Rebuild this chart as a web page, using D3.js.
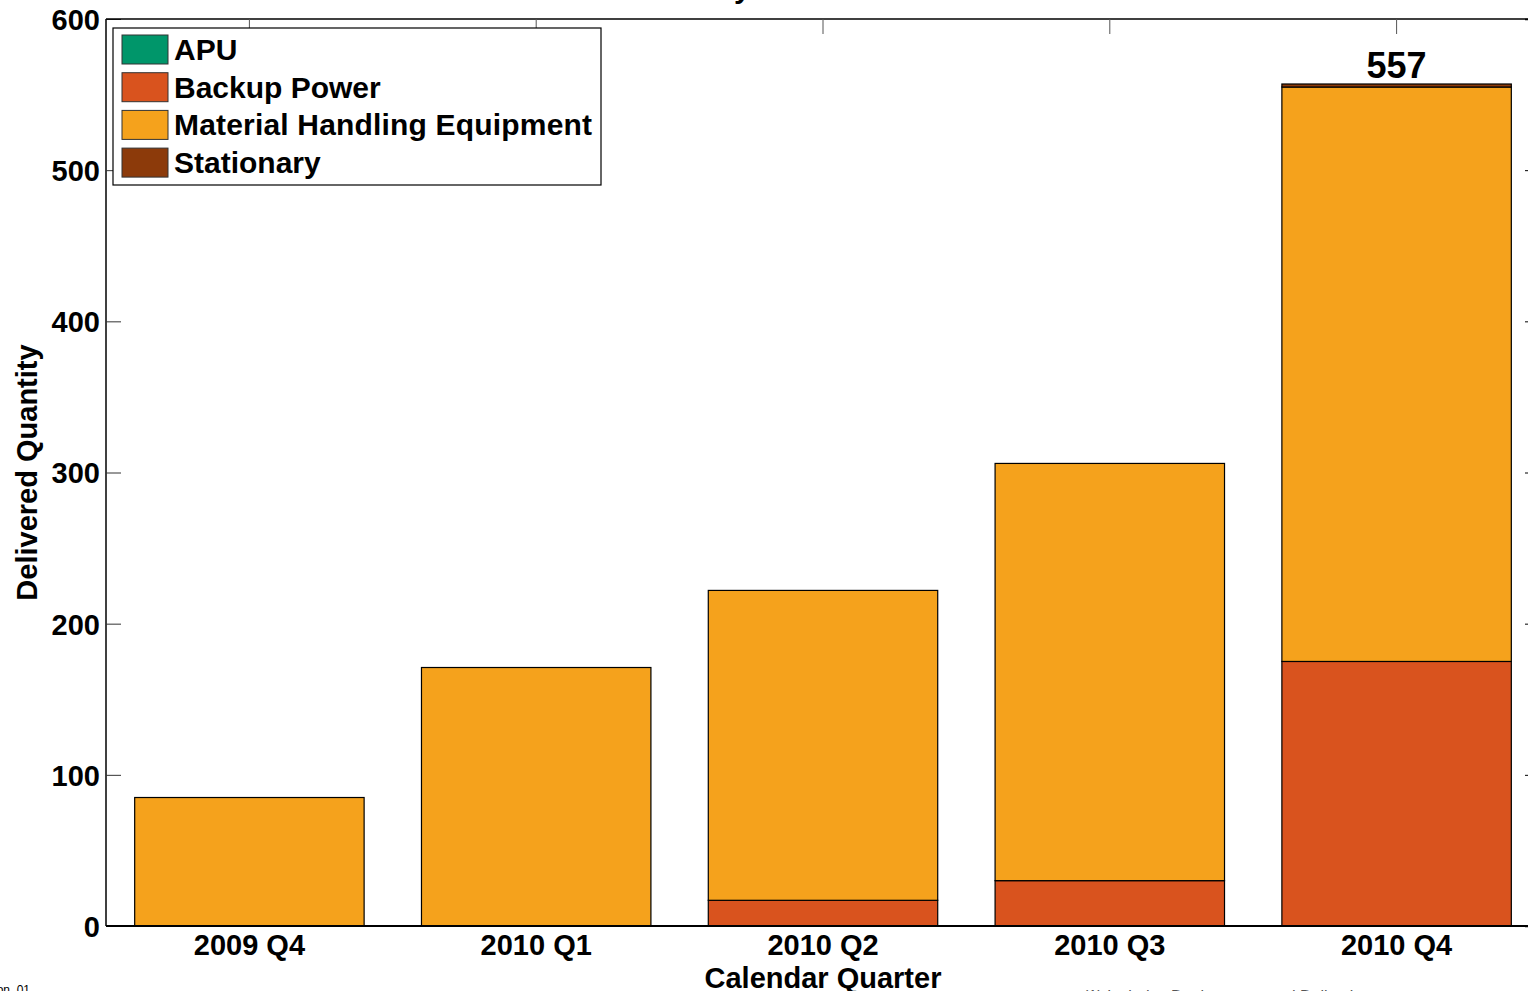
<!DOCTYPE html>
<html>
<head>
<meta charset="utf-8">
<script src="https://cdn.jsdelivr.net/npm/d3@7"></script>
<style>
  html, body { margin: 0; padding: 0; background: #fff; overflow: hidden; }
  svg { display: block; font-family: "Liberation Sans", Arial, sans-serif; font-weight: bold; }
</style>
</head>
<body>
<div class="visHolder"></div>
<script>
// data
const quarters = ["2009 Q4", "2010 Q1", "2010 Q2", "2010 Q3", "2010 Q4"];
const seriesNames = ["APU", "Backup Power", "Material Handling Equipment", "Stationary"];
const apu = [0, 0, 0, 0, 0];
const backupPower = [0, 0, 17, 30, 175];
const materialHandling = [85, 171, 205, 276, 380];
const stationary = [0, 0, 0, 0, 2];
const yTicks = [0, 100, 200, 300, 400, 500, 600];
const colors = ["#00966A", "#D9531E", "#F5A21C", "#8C3A0A"];

const w = 1528;
const h = 991;
const plotLeft = 106, plotRight = 1540, plotTop = 19, plotBottom = 926;

const svg = d3.select(".visHolder")
  .append("svg")
  .attr("width", w)
  .attr("height", h);

const xScale = d3.scaleBand()
  .domain(quarters)
  .range([plotLeft, plotRight])
  .paddingInner(0.2)
  .paddingOuter(0.1);

const yScale = d3.scaleLinear()
  .domain([0, 600])
  .range([plotBottom, plotTop]);

// stack the series
const rows = quarters.map((q, i) => ({
  quarter: q,
  "APU": apu[i],
  "Backup Power": backupPower[i],
  "Material Handling Equipment": materialHandling[i],
  "Stationary": stationary[i]
}));
const stack = d3.stack().keys(seriesNames)(rows);

// title (mostly above the visible area)
svg.append("text")
  .attr("x", (plotLeft + plotRight) / 2)
  .attr("y", -2)
  .attr("text-anchor", "middle")
  .attr("font-size", 30)
  .text("Delivery Trends Over Time");

// bars
stack.forEach((s, k) => {
  svg.append("g")
    .selectAll("rect")
    .data(s.filter(d => d[1] - d[0] > 0))
    .enter()
    .append("rect")
    .attr("x", d => xScale(d.data.quarter))
    .attr("y", d => yScale(d[1]))
    .attr("width", xScale.bandwidth())
    .attr("height", d => yScale(d[0]) - yScale(d[1]))
    .attr("fill", colors[k])
    .attr("stroke", "#000")
    .attr("stroke-width", 1.2);
});

// axes box
const yLeft = d3.axisLeft(yScale).tickValues(yTicks).tickSize(-15).tickPadding(20).tickFormat(d3.format("d"));
const gy = svg.append("g")
  .attr("transform", "translate(" + plotLeft + ",0)")
  .call(yLeft);
gy.select(".domain").attr("stroke-width", 1.5).attr("d", "M0," + plotTop + "V" + plotBottom);
gy.selectAll(".tick line").attr("stroke", "#333");
gy.selectAll("text").attr("font-size", 29).attr("font-family", "Liberation Sans, Arial").attr("font-weight", "bold").attr("fill", "#000").attr("dy", "0.36em").attr("x", -6);

const yRight = d3.axisRight(yScale).tickValues(yTicks).tickSize(-15).tickFormat("");
svg.append("g")
  .attr("transform", "translate(" + plotRight + ",0)")
  .call(yRight)
  .call(g => g.select(".domain").attr("stroke-width", 1.5));

const xBottom = d3.axisBottom(xScale).tickSize(0).tickPadding(10);
const gx = svg.append("g")
  .attr("transform", "translate(0," + plotBottom + ")")
  .call(xBottom);
gx.select(".domain").attr("stroke-width", 1.8).attr("d", "M" + plotLeft + ",0H" + plotRight);
gx.selectAll("text").attr("font-size", 29).attr("font-family", "Liberation Sans, Arial").attr("font-weight", "bold").attr("fill", "#000").attr("dy", "0.71em").attr("y", 8);

const xTop = d3.axisTop(xScale).tickSize(-15).tickFormat("");
svg.append("g")
  .attr("transform", "translate(0," + plotTop + ")")
  .call(xTop)
  .call(g => g.select(".domain").attr("stroke-width", 1.5).attr("d", "M" + plotLeft + ",0H" + plotRight))
  .call(g => g.selectAll(".tick line").attr("stroke", "#555"));

// axis titles
svg.append("text")
  .attr("x", (plotLeft + plotRight) / 2)
  .attr("y", 988)
  .attr("text-anchor", "middle")
  .attr("font-size", 29)
  .text("Calendar Quarter");

svg.append("text")
  .attr("transform", "translate(37," + ((plotTop + plotBottom) / 2) + ") rotate(-90)")
  .attr("text-anchor", "middle")
  .attr("font-size", 29)
  .text("Delivered Quantity");

// total label on last bar
const last = quarters.length - 1;
const total = apu[last] + backupPower[last] + materialHandling[last] + stationary[last];
svg.append("text")
  .attr("x", xScale(quarters[last]) + xScale.bandwidth() / 2)
  .attr("y", yScale(total) - 6)
  .attr("text-anchor", "middle")
  .attr("font-size", 36)
  .text(total);

// legend
const legend = svg.append("g").attr("transform", "translate(113,28)");
legend.append("rect")
  .attr("width", 488)
  .attr("height", 157)
  .attr("fill", "#fff")
  .attr("stroke", "#000")
  .attr("stroke-width", 1.2);
seriesNames.forEach((name, i) => {
  const row = legend.append("g").attr("transform", "translate(9," + (7 + i * 37.7) + ")");
  row.append("rect")
    .attr("width", 46)
    .attr("height", 29)
    .attr("fill", colors[i])
    .attr("stroke", "#333")
    .attr("stroke-width", 1);
  row.append("text")
    .attr("x", 52)
    .attr("y", 25)
    .attr("font-size", 30)
    .attr("textLength", name.length > 20 ? 418 : null)
    .text(name);
});

// footnotes, cut by the frame
svg.append("text")
  .attr("x", 30)
  .attr("y", 994)
  .attr("text-anchor", "end")
  .attr("font-size", 12)
  .attr("font-weight", "normal")
  .text("NREL cdp_emd_production_01");

svg.append("text")
  .attr("x", 1083)
  .attr("y", 1002)
  .attr("font-size", 16)
  .attr("font-weight", "normal")
  .attr("fill", "#555")
  .text("(1) Includes Deployments and Deliveries");
</script>
</body>
</html>
